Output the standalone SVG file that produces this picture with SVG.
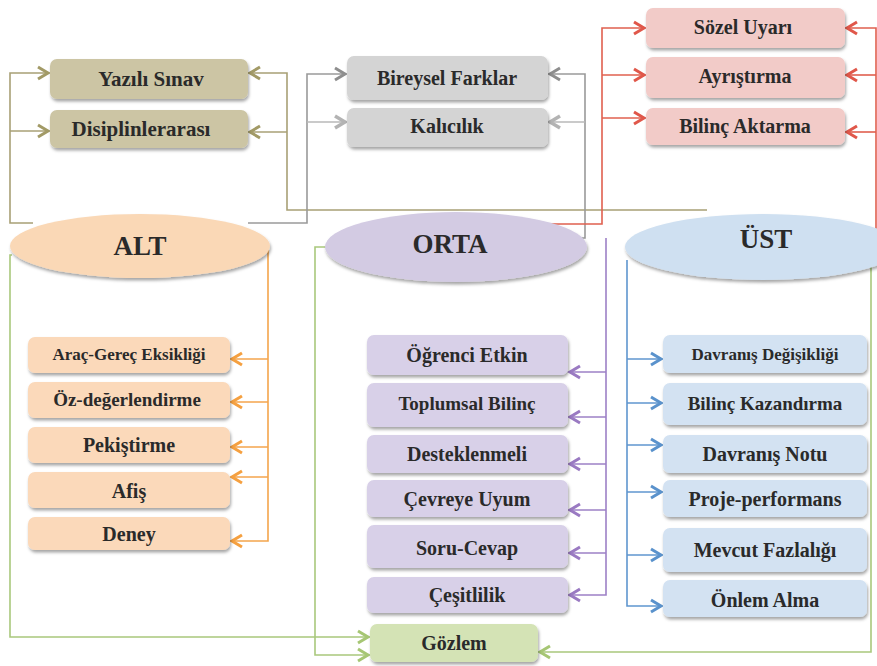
<svg xmlns="http://www.w3.org/2000/svg" width="877" height="666" viewBox="0 0 877 666" font-family="'Liberation Serif', 'DejaVu Serif', 'Times New Roman', serif">
<style>
text{font-family:'Liberation Serif','DejaVu Serif','Times New Roman',serif;font-weight:bold;fill:#2a2a2a;text-anchor:middle;font-size:20px}
.sm{font-size:17px}
.md{font-size:19px}
.lg{font-size:21px}
.big{font-size:27px}
.box{filter:url(#sh)}
.ln{fill:none;stroke-width:1.6}
.ol{stroke:#a8a076}.gr{stroke:#9a9a9a}.rd{stroke:#e0604f}.or{stroke:#f4a54c}.pu{stroke:#9d80c6}.bl{stroke:#5f96cf}.gn{stroke:#a9c87c}
</style>
<defs>
<filter id="sh" x="-10%" y="-20%" width="120%" height="150%"><feDropShadow dx="1" dy="2.5" stdDeviation="1.6" flood-color="#000" flood-opacity="0.35"/></filter>
<marker id="aOl" markerUnits="userSpaceOnUse" markerWidth="16" markerHeight="16" refX="12" refY="8" orient="auto"><path d="M2,2 L12,8 L2,14" fill="none" stroke="#a29a66" stroke-width="3"/></marker>
<marker id="aGr" markerUnits="userSpaceOnUse" markerWidth="16" markerHeight="16" refX="12" refY="8" orient="auto"><path d="M2,2 L12,8 L2,14" fill="none" stroke="#8e8e8e" stroke-width="3"/></marker>
<marker id="aGl" markerUnits="userSpaceOnUse" markerWidth="16" markerHeight="16" refX="12" refY="8" orient="auto"><path d="M2,2 L12,8 L2,14" fill="none" stroke="#b3b3b3" stroke-width="3.5"/></marker>
<marker id="aRd" markerUnits="userSpaceOnUse" markerWidth="16" markerHeight="16" refX="12" refY="8" orient="auto"><path d="M2,2 L12,8 L2,14" fill="none" stroke="#e0574a" stroke-width="3"/></marker>
<marker id="aOr" markerUnits="userSpaceOnUse" markerWidth="16" markerHeight="16" refX="12" refY="8" orient="auto"><path d="M2,2 L12,8 L2,14" fill="none" stroke="#f5a040" stroke-width="3"/></marker>
<marker id="aPu" markerUnits="userSpaceOnUse" markerWidth="16" markerHeight="16" refX="12" refY="8" orient="auto"><path d="M2,2 L12,8 L2,14" fill="none" stroke="#9a7ac2" stroke-width="3"/></marker>
<marker id="aBl" markerUnits="userSpaceOnUse" markerWidth="16" markerHeight="16" refX="12" refY="8" orient="auto"><path d="M2,2 L12,8 L2,14" fill="none" stroke="#5a92cc" stroke-width="3"/></marker>
<marker id="aGn" markerUnits="userSpaceOnUse" markerWidth="16" markerHeight="16" refX="12" refY="8" orient="auto"><path d="M2,2 L12,8 L2,14" fill="none" stroke="#a6c674" stroke-width="3"/></marker>
</defs>
<rect width="877" height="666" fill="#fff"/>

<g id="connectors">
<path class="ln ol" d="M33,223 H10 V73 H48" marker-end="url(#aOl)"/>
<path class="ln ol" d="M10,131 H48" marker-end="url(#aOl)"/>
<path class="ln ol" d="M707,210 H287 V73 H250" marker-end="url(#aOl)"/>
<path class="ln ol" d="M287,132 H250" marker-end="url(#aOl)"/>
<path class="ln gr" d="M248,223 H307 V74 H345" marker-end="url(#aGr)"/>
<path class="ln" stroke="#b8b8b8" stroke-width="4" d="M307,122 H345" marker-end="url(#aGl)"/>
<path class="ln gr" d="M565,238 H585 V74 H550" marker-end="url(#aGr)"/>
<path class="ln" stroke="#b8b8b8" stroke-width="4" d="M585,122 H550" marker-end="url(#aGl)"/>
<path class="ln rd" d="M547,224 H602 V28 H644" marker-end="url(#aRd)"/>
<path class="ln rd" d="M602,75 H644" marker-end="url(#aRd)"/>
<path class="ln rd" d="M602,118 H644" marker-end="url(#aRd)"/>
<path class="ln rd" d="M863,238 H876 V28 H847" marker-end="url(#aRd)"/>
<path class="ln rd" d="M876,75 H847" marker-end="url(#aRd)"/>
<path class="ln rd" d="M876,132 H847" marker-end="url(#aRd)"/>
<path class="ln or" d="M268,250 V541 H232" marker-end="url(#aOr)"/>
<path class="ln or" d="M268,359 H232" marker-end="url(#aOr)"/>
<path class="ln or" d="M268,402 H232" marker-end="url(#aOr)"/>
<path class="ln or" d="M268,447 H232" marker-end="url(#aOr)"/>
<path class="ln or" d="M268,477 H232" marker-end="url(#aOr)"/>
<path class="ln pu" d="M606,238 V595 H570" marker-end="url(#aPu)"/>
<path class="ln pu" d="M606,372 H570" marker-end="url(#aPu)"/>
<path class="ln pu" d="M606,417 H570" marker-end="url(#aPu)"/>
<path class="ln pu" d="M606,464 H570" marker-end="url(#aPu)"/>
<path class="ln pu" d="M606,510 H570" marker-end="url(#aPu)"/>
<path class="ln pu" d="M606,553 H570" marker-end="url(#aPu)"/>
<path class="ln bl" d="M627,260 V606 H661" marker-end="url(#aBl)"/>
<path class="ln bl" d="M627,359 H661" marker-end="url(#aBl)"/>
<path class="ln bl" d="M627,403 H661" marker-end="url(#aBl)"/>
<path class="ln bl" d="M627,445 H661" marker-end="url(#aBl)"/>
<path class="ln bl" d="M627,492 H661" marker-end="url(#aBl)"/>
<path class="ln bl" d="M627,555 H661" marker-end="url(#aBl)"/>
<path class="ln gn" d="M12,255 H10 V637 H368" marker-end="url(#aGn)"/>
<path class="ln gn" d="M326,247 H315 V655 H368" marker-end="url(#aGn)"/>
<path class="ln gn" d="M871,252 V652 H540" marker-end="url(#aGn)"/>
</g>

<g id="alt"><ellipse class="box" cx="140" cy="246" rx="130" ry="32" fill="#fad8b6"/><text class="big" x="140" y="255">ALT</text></g>
<g id="orta"><ellipse class="box" cx="456" cy="247" rx="131" ry="35" fill="#d3cbe3"/><text class="big" x="450" y="253">ORTA</text></g>
<g id="ust"><ellipse class="box" cx="763" cy="247" rx="138" ry="33" fill="#cfe0f1"/><text class="big" x="766" y="248">ÜST</text></g>

<g id="yazili-sinav"><rect class="box" x="50" y="59" width="198" height="40" rx="7" fill="#ccc5a4"/><text class="lg" x="151" y="86">Yazılı Sınav</text></g>
<g id="disiplinlerarasi"><rect class="box" x="50" y="110" width="198" height="38" rx="7" fill="#ccc5a4"/><text class="lg" x="141" y="136">Disiplinlerarası</text></g>
<g id="bireysel-farklar"><rect class="box" x="347" y="56" width="201" height="44" rx="7" fill="#d4d4d4"/><text x="447" y="85">Bireysel Farklar</text></g>
<g id="kalicilik"><rect class="box" x="347" y="108" width="201" height="39" rx="7" fill="#d4d4d4"/><text x="447" y="133">Kalıcılık</text></g>
<g id="sozel-uyari"><rect class="box" x="646" y="8" width="199" height="40" rx="7" fill="#f2cbc8"/><text x="743" y="34">Sözel Uyarı</text></g>
<g id="ayristirma"><rect class="box" x="646" y="57" width="199" height="41" rx="7" fill="#f2cbc8"/><text x="745" y="83">Ayrıştırma</text></g>
<g id="bilinc-aktarma"><rect class="box" x="646" y="108" width="199" height="37" rx="7" fill="#f2cbc8"/><text x="745" y="133">Bilinç Aktarma</text></g>

<g id="arac-gerec"><rect class="box" x="28" y="337" width="202" height="36" rx="7" fill="#fbd9ba"/><text class="sm" x="129" y="360">Araç-Gereç Eksikliği</text></g>
<g id="oz-degerlendirme"><rect class="box" x="28" y="382" width="202" height="36" rx="7" fill="#fbd9ba"/><text class="md" x="127" y="406">Öz-değerlendirme</text></g>
<g id="pekistirme"><rect class="box" x="28" y="427" width="202" height="36" rx="7" fill="#fbd9ba"/><text x="129" y="452">Pekiştirme</text></g>
<g id="afis"><rect class="box" x="28" y="472" width="202" height="36" rx="7" fill="#fbd9ba"/><text x="129" y="498">Afiş</text></g>
<g id="deney"><rect class="box" x="28" y="517" width="202" height="33" rx="7" fill="#fbd9ba"/><text x="129" y="541">Deney</text></g>

<g id="ogrenci-etkin"><rect class="box" x="367" y="335" width="201" height="40" rx="7" fill="#d8d0e8"/><text x="467" y="362">Öğrenci Etkin</text></g>
<g id="toplumsal-bilinc"><rect class="box" x="367" y="383" width="201" height="44" rx="7" fill="#d8d0e8"/><text class="md" x="467" y="410">Toplumsal Bilinç</text></g>
<g id="desteklenmeli"><rect class="box" x="367" y="435" width="201" height="38" rx="7" fill="#d8d0e8"/><text x="467" y="461">Desteklenmeli</text></g>
<g id="cevreye-uyum"><rect class="box" x="367" y="480" width="201" height="37" rx="7" fill="#d8d0e8"/><text x="467" y="506">Çevreye Uyum</text></g>
<g id="soru-cevap"><rect class="box" x="367" y="525" width="201" height="43" rx="7" fill="#d8d0e8"/><text x="467" y="555">Soru-Cevap</text></g>
<g id="cesitlilik"><rect class="box" x="367" y="577" width="201" height="36" rx="7" fill="#d8d0e8"/><text x="467" y="602">Çeşitlilik</text></g>

<g id="davranis-degisikligi"><rect class="box" x="663" y="335" width="204" height="38" rx="7" fill="#d3e2f2"/><text class="sm" x="765" y="360">Davranış Değişikliği</text></g>
<g id="bilinc-kazandirma"><rect class="box" x="663" y="383" width="204" height="42" rx="7" fill="#d3e2f2"/><text class="md" x="765" y="410">Bilinç Kazandırma</text></g>
<g id="davranis-notu"><rect class="box" x="663" y="435" width="204" height="38" rx="7" fill="#d3e2f2"/><text x="765" y="461">Davranış Notu</text></g>
<g id="proje-performans"><rect class="box" x="663" y="480" width="204" height="37" rx="7" fill="#d3e2f2"/><text x="765" y="506">Proje-performans</text></g>
<g id="mevcut-fazlaligi"><rect class="box" x="663" y="528" width="204" height="44" rx="7" fill="#d3e2f2"/><text x="765" y="557">Mevcut Fazlalığı</text></g>
<g id="onlem-alma"><rect class="box" x="663" y="580" width="204" height="37" rx="7" fill="#d3e2f2"/><text x="765" y="607">Önlem Alma</text></g>

<g id="gozlem"><rect class="box" x="370" y="624" width="168" height="38" rx="7" fill="#d4e3b5"/><text x="454" y="650">Gözlem</text></g>
</svg>
